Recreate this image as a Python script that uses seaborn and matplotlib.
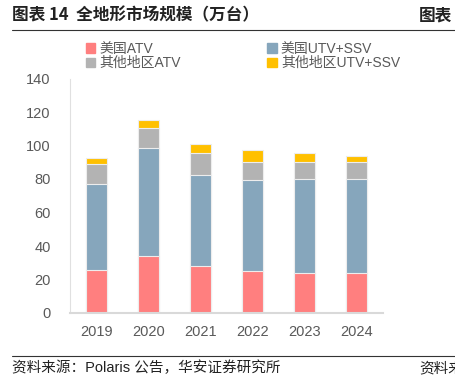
import matplotlib
matplotlib.use('Agg')
import matplotlib.pyplot as plt
import matplotlib.patches as mpatches
import numpy as np
import pandas as pd
import seaborn as sns

# 数据 (万台)
years = ['2019', '2020', '2021', '2022', '2023', '2024']
us_atv = [25.7, 34.2, 28.3, 24.9, 23.9, 23.9]
us_utv = [51.1, 64.1, 53.9, 54.3, 56.3, 56.3]
other_atv = [12.0, 11.9, 13.3, 10.8, 9.8, 10.1]
other_utv = [3.9, 5.2, 5.4, 7.3, 5.5, 3.4]

labels = ['美国ATV', '美国UTV+SSV', '其他地区ATV', '其他地区UTV+SSV']
colors = ['#FF7F7F', '#86A6BC', '#B3B3B3', '#FFC000']

sns.set_style('white')
plt.rcParams['font.family'] = ['Liberation Sans', 'Noto Sans CJK SC']
TXT = '#595959'

df = pd.DataFrame({'year': years, labels[0]: us_atv, labels[1]: us_utv,
                   labels[2]: other_atv, labels[3]: other_utv})
# 累积高度，从最高的开始画，后画的覆盖前面的
cum = df[labels].cumsum(axis=1)

fig = plt.figure(figsize=(4.56, 3.77), dpi=100)
ax = fig.add_axes([70 / 456, 1 - 313 / 377, (383 - 70) / 456, (313 - 78.5) / 377])

for lab, col in reversed(list(zip(labels, colors))):
    sns.barplot(x=df['year'], y=cum[lab], color=col, width=0.4, ax=ax,
                edgecolor='#EDEDED', linewidth=0.8, saturation=1)

ax.set_ylim(0, 140)
ax.set_xlim(-0.5, 5.5)
ax.set_yticks(np.arange(0, 141, 20))
ax.set_xlabel('')
ax.set_ylabel('')
for s in ['top', 'right']:
    ax.spines[s].set_visible(False)
ax.spines['left'].set_color('#E0E0E0')
ax.spines['left'].set_linewidth(0.8)
ax.spines['bottom'].set_color('#D9D9D9')
ax.spines['bottom'].set_linewidth(1.5)
ax.tick_params(axis='y', length=3, color='#E0E0E0', labelsize=10.5, labelcolor=TXT, pad=11)
ax.tick_params(axis='x', length=0, labelsize=10.5, labelcolor=TXT, pad=9)

handles = [mpatches.Patch(color=c, label=l) for l, c in zip(labels, colors)]
# 两列图例，按行排列
order = [0, 2, 1, 3]
fig.legend([handles[i] for i in order], [labels[i] for i in order], ncol=2,
           loc='upper left', bbox_to_anchor=(80 / 456, 1 - 36 / 377), frameon=False,
           fontsize=10, handlelength=0.7, handleheight=0.7, handletextpad=0.3,
           columnspacing=6.2, labelspacing=0.05, labelcolor=TXT, borderaxespad=0)

# 标题与来源
fig.text(12 / 456, 1 - 15 / 377, '图表 14  全地形市场规模（万台）', fontsize=12,
         fontweight='bold', va='center', ha='left', color='#222222',
         family=['Noto Sans CJK SC'])
fig.text(419 / 456, 1 - 15 / 377, '图表', fontsize=12, fontweight='bold',
         va='center', ha='left', color='#222222', family=['Noto Sans CJK SC'])
fig.add_artist(plt.Line2D([12 / 456, 1], [1 - 30 / 377] * 2, color='#333333', lw=0.8))
fig.add_artist(plt.Line2D([12 / 456, 1], [1 - 356 / 377] * 2, color='#333333', lw=0.8))
fig.text(12 / 456, 1 - 368 / 377, '资料来源：Polaris 公告，华安证券研究所', fontsize=10.5,
         va='center', ha='left', color='#222222',
         family=['Liberation Sans', 'Noto Sans CJK SC'])
fig.text(419 / 456, 1 - 368 / 377, '资料来', fontsize=10.5, va='center', ha='left',
         color='#222222', family=['Noto Sans CJK SC'])

fig.savefig('out.png', dpi=100)
